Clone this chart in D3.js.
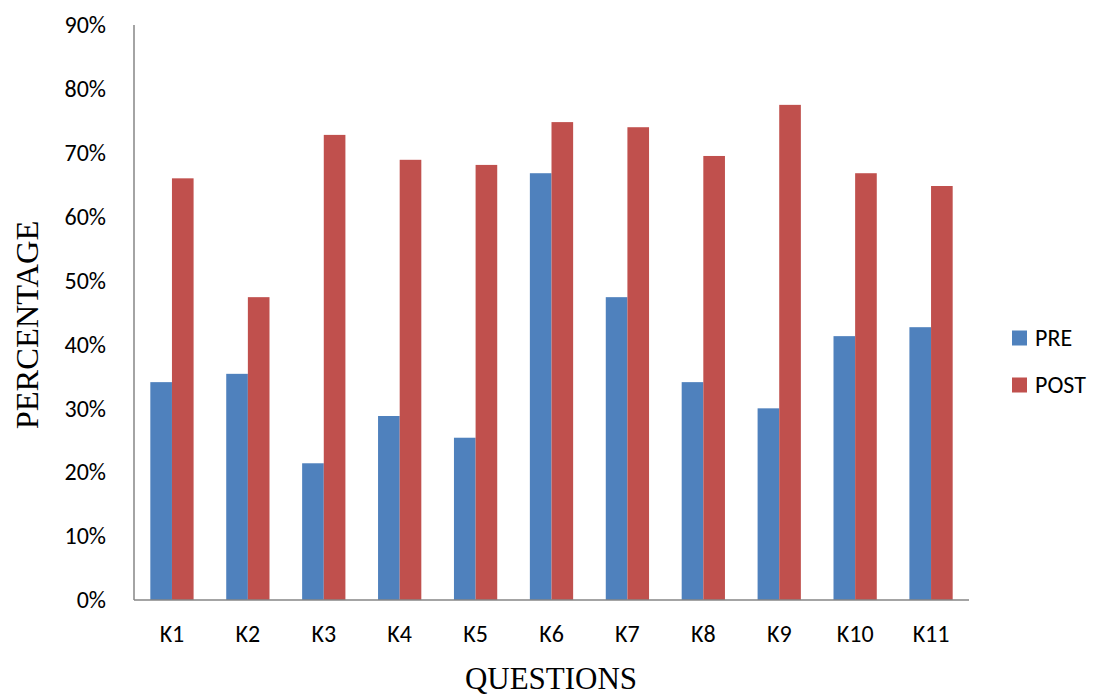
<!DOCTYPE html>
<html><head><meta charset="utf-8">
<script src="https://cdn.jsdelivr.net/npm/d3@7"></script>
<style>body{margin:0;background:#fff}</style>
</head><body><svg id="c" width="1094" height="695"></svg>
<script>
const categories = ["K1","K2","K3","K4","K5","K6","K7","K8","K9","K10","K11"];
const preValues  = [34.1,35.4,21.4,28.8,25.4,66.8,47.4,34.1,30.0,41.3,42.7];
const postValues = [66.0,47.4,72.8,68.9,68.1,74.8,74.0,69.5,77.5,66.8,64.8];
const seriesNames = ["PRE","POST"];
const seriesColors = ["#4F81BD","#C0504D"];
const yTicks = [0,10,20,30,40,50,60,70,80,90];

const svg = d3.select("#c");
const m = {l:134, r:969, t:25, b:600};
const x = d3.scaleBand().domain(categories).range([m.l, m.r]).paddingInner(0.43).paddingOuter(0.215);
const xs = d3.scaleBand().domain(seriesNames).range([0, x.bandwidth()]);
const y = d3.scaleLinear().domain([0,90]).range([m.b, m.t]);
const sans = "Carlito, 'Open Sans', 'DejaVu Sans', sans-serif";

const data = categories.map((c,i)=>({c, vals:[preValues[i], postValues[i]]}));
const g = svg.append("g");
data.forEach(d=>{
  d.vals.forEach((v,j)=>{
    g.append("rect").attr("x", x(d.c)+xs(seriesNames[j])).attr("width", xs.bandwidth())
     .attr("y", y(v)).attr("height", y(0)-y(v)).attr("fill", seriesColors[j]);
  });
});

// axes
svg.append("line").attr("x1",m.l).attr("x2",m.l).attr("y1",m.t).attr("y2",m.b).attr("stroke","#868686").attr("stroke-width",1.5);
svg.append("line").attr("x1",m.l).attr("x2",m.r).attr("y1",m.b).attr("y2",m.b).attr("stroke","#868686").attr("stroke-width",1.5);

const ya = svg.append("g").attr("transform",`translate(${m.l},0)`)
  .call(d3.axisLeft(y).tickValues(yTicks).tickSize(0).tickPadding(28).tickFormat(d=>d+"%"));
ya.select(".domain").remove();
ya.selectAll("text").attr("font-family",sans).attr("font-size",24).attr("fill","#000");

const xa = svg.append("g").attr("transform",`translate(0,${m.b})`)
  .call(d3.axisBottom(x).tickSize(0).tickPadding(25));
xa.select(".domain").remove();
xa.selectAll("text").attr("font-family",sans).attr("font-size",24).attr("fill","#000");

svg.append("text").attr("x",551).attr("y",689).attr("text-anchor","middle")
  .attr("font-family","'Liberation Serif', serif").attr("font-size",31).text("QUESTIONS");
svg.append("text").attr("transform","translate(38,325) rotate(-90)").attr("text-anchor","middle")
  .attr("font-family","'Liberation Serif', serif").attr("font-size",32.5).text("PERCENTAGE");

// legend
seriesNames.forEach((s,i)=>{
  const ly = 338 + i*47;
  svg.append("rect").attr("x",1012).attr("y",ly-7.5).attr("width",15).attr("height",15).attr("fill",seriesColors[i]);
  svg.append("text").attr("x",1035).attr("y",ly).attr("dy","0.35em").attr("font-family",sans).attr("font-size",24).text(s);
});
</script></body></html>
